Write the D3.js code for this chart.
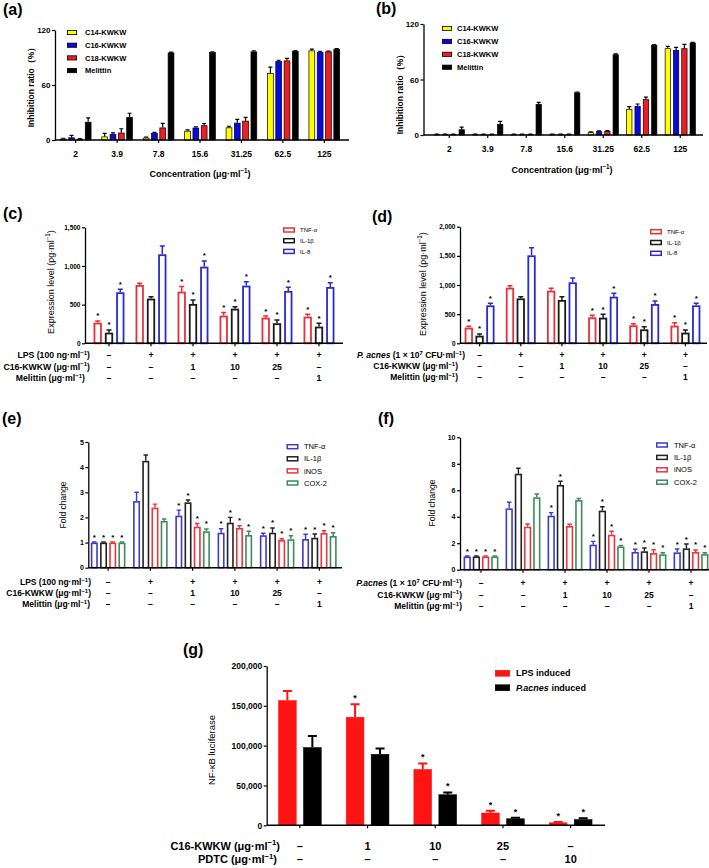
<!DOCTYPE html>
<html><head><meta charset="utf-8">
<script src="https://cdn.jsdelivr.net/npm/d3@7"></script>
<style>body{margin:0;background:#fff} svg{display:block}</style>
</head><body><svg id="fig" width="709" height="868"></svg>
<script>
const FONT = '"Liberation Sans", Arial, Helvetica, sans-serif';

// ---------- (a) / (b) data ----------
const concLabels = ["2", "3.9", "7.8", "15.6", "31.25", "62.5", "125"];
const peptideNames = ["C14-KWKW", "C16-KWKW", "C18-KWKW", "Melittin"];
const a_C14 = [1.4, 3.8, 2.5, 10, 13.7, 73, 97.6];
const a_C14_err = [0.5, 3.5, 0.7, 1, 1.3, 6.5, 1.5];
const a_C16 = [2.8, 6.5, 7.6, 13.4, 18.8, 86, 95.8];
const a_C16_err = [2.2, 1.2, 0.8, 1, 3.6, 1, 0.8];
const a_C18 = [1.2, 8, 13.6, 16, 21, 86.7, 96.5];
const a_C18_err = [0.3, 4.3, 4.5, 2, 3.6, 2.3, 0.5];
const a_Mel = [19.8, 25, 95.4, 95.8, 96.5, 97, 99.4];
const a_Mel_err = [4.4, 4.2, 0.5, 0.5, 0.8, 0.5, 0.3];

const b_C14 = [0.6, 0.6, 0.6, 0.6, 2.9, 28, 93.7];
const b_C14_err = [0.3, 0.3, 0.3, 0.3, 0.5, 2.6, 2.2];
const b_C16 = [0.6, 0.6, 0.6, 0.6, 4, 31.4, 91.9];
const b_C16_err = [0.3, 0.3, 0.3, 0.3, 0.5, 2.1, 2.9];
const b_C18 = [0.6, 0.6, 0.6, 0.6, 4.3, 38.6, 93.7];
const b_C18_err = [0.3, 0.3, 0.3, 0.3, 0.5, 2.4, 4.3];
const b_Mel = [6.1, 11.9, 33.5, 46, 87.2, 97.3, 99.8];
const b_Mel_err = [2.5, 2.9, 1.8, 0.5, 0.5, 0.5, 0.3];
const inhibTicks = [0, 60, 120];

// ---------- (c) / (d) data ----------
const cytokines3 = ["TNF-α", "IL-1β", "IL-8"];
const condLPS = ["–", "+", "+", "+", "+", "+"];
const condC16 = ["–", "–", "1", "10", "25", "–"];
const condMel = ["–", "–", "–", "–", "–", "1"];

const c_TNF = [267, 754, 668, 358, 332, 345];
const c_TNF_err = [22, 22, 65, 39, 21, 30];
const c_IL1b = [138, 578, 509, 448, 259, 216];
const c_IL1b_err = [34, 25, 51, 26, 43, 43];
const c_IL8 = [660, 1151, 991, 746, 677, 728];
const c_IL8_err = [38, 108, 74, 51, 47, 56];
const c_stars = [1, 0, 1, 1, 1, 1];
const cTicks = [0, 500, 1000, 1500];

const d_TNF = [269, 954, 903, 446, 309, 303];
const d_TNF_err = [22, 35, 40, 34, 28, 51];
const d_IL1b = [131, 771, 743, 440, 240, 183];
const d_IL1b_err = [29, 29, 57, 57, 46, 46];
const d_IL8 = [651, 1509, 1046, 800, 674, 651];
const d_IL8_err = [35, 131, 74, 57, 52, 35];
const d_stars = [1, 0, 0, 1, 1, 1];
const dTicks = [0, 500, 1000, 1500, 2000];

// ---------- (e) / (f) data ----------
const genes4 = ["TNF-α", "IL-1β", "iNOS", "COX-2"];
const e_TNF = [1, 2.65, 2.07, 1.39, 1.29, 1.14];
const e_TNF_err = [0.02, 0.35, 0.22, 0.16, 0.08, 0.19];
const e_IL1b = [1, 4.25, 2.6, 1.79, 1.39, 1.19];
const e_IL1b_err = [0.02, 0.23, 0.09, 0.21, 0.19, 0.15];
const e_iNOS = [1, 2.39, 1.63, 1.58, 1.1, 1.38];
const e_iNOS_err = [0.02, 0.14, 0.13, 0.09, 0.05, 0.09];
const e_COX2 = [1, 1.86, 1.45, 1.3, 1.13, 1.26];
const e_COX2_err = [0.02, 0.08, 0.09, 0.15, 0.14, 0.13];
const e_stars = [1, 0, 1, 1, 1, 1];
const eTicks = [0, 1, 2, 3, 4, 5];

const f_TNF = [1, 4.63, 4.08, 1.89, 1.34, 1.31];
const f_TNF_err = [0.03, 0.46, 0.23, 0.25, 0.2, 0.25];
const f_IL1b = [1, 7.25, 6.4, 4.46, 1.39, 1.61];
const f_IL1b_err = [0.03, 0.41, 0.28, 0.3, 0.25, 0.33];
const f_iNOS = [1, 3.25, 3.3, 2.64, 1.26, 1.34];
const f_iNOS_err = [0.03, 0.2, 0.13, 0.26, 0.25, 0.15];
const f_COX2 = [1, 5.47, 5.26, 1.76, 1.16, 1.18];
const f_COX2_err = [0.03, 0.25, 0.13, 0.08, 0.12, 0.1];
const f_stars_a = [1, 0, 1, 1, 1, 1];
const f_stars_b = [1, 0, 0, 1, 1, 1];
const fTicks = [0, 2, 4, 6, 8, 10];

// ---------- (g) data ----------
const gSeries = ["LPS induced", "<i>P.acnes</i> induced"];
const condC16g = ["–", "1", "10", "25", "–"];
const condPDTC = ["–", "–", "–", "–", "10"];
const g_LPS = [157000, 136000, 70500, 15800, 3500];
const g_LPS_err = [11500, 16000, 7200, 2500, 500];
const g_Pac = [98000, 89500, 38700, 8500, 7500];
const g_Pac_err = [14000, 7000, 2500, 1000, 1300];
const g_LPS_stars = [0, 1, 1, 1, 1];
const g_Pac_stars = [0, 0, 1, 1, 1];
const gTicks = [0, 50000, 100000, 150000, 200000];

// ================= drawing =================
const svg = d3.select("#fig");
svg.append("rect").attr("width", 709).attr("height", 868).attr("fill", "#fff");

function richText(sel, str, fs) {
  const parts = str.split(/(\^\{[^}]*\}|<i>[^<]*<\/i>)/).filter(s => s.length);
  let shifted = false;
  parts.forEach(p => {
    const t = sel.append("tspan");
    if (p.startsWith("^{")) {
      t.text(p.slice(2, -1)).attr("font-size", fs * 0.7).attr("dy", -fs * 0.4);
      shifted = true;
    } else {
      if (p.startsWith("<i>")) t.text(p.slice(3, -4)).attr("font-style", "italic");
      else t.text(p);
      if (shifted) { t.attr("dy", fs * 0.4); shifted = false; }
    }
  });
  return sel;
}

function txt(x, y, str, fs, opts = {}) {
  const t = svg.append("text").attr("x", x).attr("y", y)
    .attr("font-family", FONT).attr("font-size", fs)
    .attr("font-weight", opts.weight || "normal")
    .attr("text-anchor", opts.anchor || "start")
    .attr("fill", "#000");
  if (opts.rotate) t.attr("transform", `rotate(-90,${x},${y})`);
  richText(t, str, fs);
  return t;
}

function barPanel(o) {
  const g = svg.append("g");
  const n = o.series[0].vals.length;
  const x = d3.scaleBand().domain(d3.range(n)).range([o.gx0, o.gx1]);
  const y = d3.scaleLinear().domain([0, o.yMax]).range([o.yZero, o.yTop]);
  const ns = o.series.length;
  const sub = d3.scaleBand().domain(d3.range(ns)).range([-o.pitch * ns / 2, o.pitch * ns / 2]);
  const center = i => x(i) + x.bandwidth() / 2;

  // bars
  o.series.forEach((s, si) => {
    const cx = i => center(i) + sub(si) + sub.bandwidth() / 2;
    const bw = o.barW;
    const sw = s.hollow ? o.hollowSW : o.filledSW;
    const pts = s.vals.map((v, i) => ({ v, i, e: s.errs[i], star: s.stars ? s.stars[i] : 0 }));
    const layer = g.append("g");
    layer.selectAll("rect").data(pts).join("rect")
      .attr("x", d => cx(d.i) - bw / 2 + sw / 2)
      .attr("width", bw - sw)
      .attr("y", d => y(d.v) + sw / 2)
      .attr("height", d => Math.max(0, o.yZero - y(d.v) - sw / 2))
      .attr("fill", s.hollow ? "#fff" : s.color)
      .attr("stroke", s.hollow ? s.color : (s.edge || "#000"))
      .attr("stroke-width", sw);
    // error bars
    const ec = s.errColor || (s.hollow ? s.color : (s.edge || "#000"));
    const cap = o.capW;
    layer.selectAll("path.err").data(pts).join("path").attr("class", "err")
      .attr("d", d => {
        const yt = y(d.v + d.e), yb = y(d.v);
        const c = cx(d.i);
        return `M${c},${yb}V${yt}M${c - cap / 2},${yt}H${c + cap / 2}`;
      })
      .attr("fill", "none").attr("stroke", ec).attr("stroke-width", o.errSW);
    layer.selectAll("text.star").data(pts.filter(d => d.star)).join("text").attr("class", "star")
      .attr("x", d => cx(d.i))
      .attr("y", d => y(d.v + d.e) - o.starGap)
      .attr("text-anchor", "middle")
      .attr("font-family", FONT).attr("font-size", o.starFs).attr("font-weight", "bold")
      .text("*");
  });

  // y axis
  const ya = d3.axisLeft(y).tickValues(o.yTicks).tickSize(3).tickSizeOuter(0)
    .tickPadding(1.5).tickFormat(o.yFmt || d3.format(","));
  const yg = g.append("g").attr("transform", `translate(${o.axisX},0)`).call(ya);
  yg.attr("font-family", FONT).attr("font-size", o.yTickFs).attr("font-weight", "bold");
  yg.select(".domain").attr("stroke-width", 1.3);
  yg.selectAll(".tick line").attr("stroke-width", 1.2);

  // x axis
  g.append("line").attr("x1", o.axisX).attr("x2", o.axisEnd)
    .attr("y1", o.yZero).attr("y2", o.yZero).attr("stroke", "#000").attr("stroke-width", 1.4);
  const xa = d3.axisBottom(x).tickSize(3).tickSizeOuter(0).tickPadding(o.xPad || 8)
    .tickFormat(o.xLabels ? (d, i) => o.xLabels[i] : "");
  const xg = g.append("g").attr("transform", `translate(0,${o.yZero})`).call(xa);
  xg.select(".domain").remove();
  xg.attr("font-family", FONT).attr("font-size", o.xTickFs || 8).attr("font-weight", "bold");
  xg.selectAll(".tick line").attr("stroke-width", 1.2);

  // condition rows
  if (o.rows) {
    o.rows.forEach(r => {
      txt(r.lx, r.y, r.label, o.rowFs, { weight: "bold", anchor: "end" }).attr("dy", "0.35em");
      r.vals.forEach((v, i) => {
        svg.append("text").attr("x", center(i)).attr("y", r.y).attr("dy", "0.35em")
          .attr("text-anchor", "middle").attr("font-family", FONT)
          .attr("font-size", o.rowFs).attr("font-weight", "bold").text(v);
      });
    });
  }

  // legend
  if (o.legend) {
    const L = o.legend;
    o.series.forEach((s, si) => {
      const yy = L.y0 + si * L.dy;
      const sw = s.hollow ? L.sw : 0.8;
      svg.append("rect").attr("x", L.x + sw / 2).attr("y", yy - L.h / 2 + sw / 2)
        .attr("width", L.w - sw).attr("height", L.h - sw)
        .attr("fill", s.hollow ? "#fff" : s.color)
        .attr("stroke", s.hollow ? s.color : (s.edge || "#000")).attr("stroke-width", sw);
      txt(L.tx, yy, s.name, L.fs, { weight: L.weight || "normal" }).attr("dy", "0.35em");
    });
  }
}

// ---- panel labels ----
txt(3, 15, "(a)", 16, { weight: "bold" });
txt(376, 14, "(b)", 16, { weight: "bold" });
txt(3, 219, "(c)", 16, { weight: "bold" });
txt(372, 222, "(d)", 16, { weight: "bold" });
txt(2, 424, "(e)", 16, { weight: "bold" });
txt(378, 424, "(f)", 16, { weight: "bold" });
txt(183, 655, "(g)", 16, { weight: "bold" });

// ---- (a) ----
const colY = "#ffff00", colB = "#0a0ae0", colR = "#ee1c24", colK = "#000";
barPanel({
  series: [
    { name: peptideNames[0], vals: a_C14, errs: a_C14_err, color: colY },
    { name: peptideNames[1], vals: a_C16, errs: a_C16_err, color: colB },
    { name: peptideNames[2], vals: a_C18, errs: a_C18_err, color: colR },
    { name: peptideNames[3], vals: a_Mel, errs: a_Mel_err, color: colK }
  ],
  gx0: 55, gx1: 345, axisX: 55, axisEnd: 349, yZero: 140, yTop: 30, yMax: 120,
  yTicks: inhibTicks, yFmt: d3.format("d"), yTickFs: 8, xLabels: concLabels, xTickFs: 8.5,
  barW: 6.5, pitch: 8.3, filledSW: 0.7, capW: 4, errSW: 1.2, starGap: 1.5, starFs: 8,
  legend: { x: 67, y0: 32.5, dy: 12.7, w: 10, h: 5, tx: 85, fs: 7.5, weight: "bold" }
});
txt(34, 85, "Inhibition ratio（%）", 8.5, { weight: "bold", anchor: "middle", rotate: true });
txt(200, 177, "Concentration (μg·ml^{−1})", 9, { weight: "bold", anchor: "middle" });

// ---- (b) ----
barPanel({
  series: [
    { name: peptideNames[0], vals: b_C14, errs: b_C14_err, color: colY },
    { name: peptideNames[1], vals: b_C16, errs: b_C16_err, color: colB },
    { name: peptideNames[2], vals: b_C18, errs: b_C18_err, color: colR },
    { name: peptideNames[3], vals: b_Mel, errs: b_Mel_err, color: colK }
  ],
  gx0: 430, gx1: 699.5, axisX: 423.5, axisEnd: 703, yZero: 135, yTop: 24, yMax: 120,
  yTicks: inhibTicks, yFmt: d3.format("d"), yTickFs: 8, xLabels: concLabels, xTickFs: 8.5,
  barW: 6, pitch: 8.3, filledSW: 0.7, capW: 4, errSW: 1.2, starGap: 1.5, starFs: 8,
  legend: { x: 442, y0: 28.5, dy: 12.9, w: 10, h: 5, tx: 457, fs: 7.5, weight: "bold" }
});
txt(403, 92, "Inhibition ratio（%）", 8.5, { weight: "bold", anchor: "middle", rotate: true });
txt(562, 173, "Concentration (μg·ml^{−1})", 9, { weight: "bold", anchor: "middle" });

// ---- (c) ----
const cRed = "#e8303a", cBlk = "#1a1a1a", cBlu = "#2a2ad0";
barPanel({
  series: [
    { name: cytokines3[0], vals: c_TNF, errs: c_TNF_err, color: cRed, hollow: true, stars: c_stars },
    { name: cytokines3[1], vals: c_IL1b, errs: c_IL1b_err, color: cBlk, hollow: true, stars: c_stars },
    { name: cytokines3[2], vals: c_IL8, errs: c_IL8_err, color: cBlu, hollow: true, stars: c_stars }
  ],
  gx0: 88, gx1: 340, axisX: 85, axisEnd: 343, yZero: 343.3, yTop: 227.3, yMax: 1500,
  yTicks: cTicks, yTickFs: 6.5,
  barW: 8.3, pitch: 11.3, hollowSW: 1.8, capW: 5, errSW: 1.5, starGap: 2.5, starFs: 8,
  rowFs: 8.7,
  rows: [
    { label: "LPS (100 ng·ml^{−1})", lx: 90, y: 355, vals: condLPS },
    { label: "C16-KWKW (μg·ml^{−1})", lx: 90, y: 366.5, vals: condC16 },
    { label: "Melittin (μg·ml^{−1})", lx: 85, y: 378, vals: condMel }
  ],
  legend: { x: 283, y0: 230, dy: 10.7, w: 12, h: 5.5, tx: 300, fs: 6, sw: 1.5 }
});
txt(54, 282, "Expression level (pg·ml^{−1})", 9, { anchor: "middle", rotate: true });

// ---- (d) ----
barPanel({
  series: [
    { name: cytokines3[0], vals: d_TNF, errs: d_TNF_err, color: cRed, hollow: true, stars: d_stars },
    { name: cytokines3[1], vals: d_IL1b, errs: d_IL1b_err, color: cBlk, hollow: true, stars: d_stars },
    { name: cytokines3[2], vals: d_IL8, errs: d_IL8_err, color: cBlu, hollow: true, stars: d_stars }
  ],
  gx0: 459, gx1: 706, axisX: 460, axisEnd: 707, yZero: 343.3, yTop: 226.7, yMax: 2000,
  yTicks: dTicks, yTickFs: 6.5,
  barW: 8.3, pitch: 10.8, hollowSW: 1.8, capW: 5, errSW: 1.5, starGap: 2.5, starFs: 8,
  rowFs: 8.5,
  rows: [
    { label: "<i>P. acnes</i> (1 × 10^{7} CFU·ml^{−1})", lx: 465, y: 355, vals: condLPS },
    { label: "C16-KWKW (μg·ml^{−1})", lx: 458, y: 366, vals: condC16 },
    { label: "Melittin (μg·ml^{−1})", lx: 458, y: 377, vals: condMel }
  ],
  legend: { x: 650, y0: 231.7, dy: 10.8, w: 12, h: 5.5, tx: 667, fs: 6, sw: 1.5 }
});
txt(426, 284, "Expression level (pg·ml^{−1})", 9, { anchor: "middle", rotate: true });

// ---- (e) ----
const eBlu = "#3b3bcc", eBlk = "#222", eRed = "#e8363e", eGrn = "#3d8a5c";
barPanel({
  series: [
    { name: genes4[0], vals: e_TNF, errs: e_TNF_err, color: eBlu, hollow: true, stars: e_stars },
    { name: genes4[1], vals: e_IL1b, errs: e_IL1b_err, color: eBlk, hollow: true, stars: e_stars },
    { name: genes4[2], vals: e_iNOS, errs: e_iNOS_err, color: eRed, hollow: true, stars: e_stars },
    { name: genes4[3], vals: e_COX2, errs: e_COX2_err, color: eGrn, hollow: true, stars: e_stars }
  ],
  gx0: 87, gx1: 340.5, axisX: 88.3, axisEnd: 342, yZero: 567.7, yTop: 442, yMax: 5,
  yTicks: eTicks, yFmt: d3.format("d"), yTickFs: 7,
  barW: 7, pitch: 9.2, hollowSW: 1.6, capW: 4.5, errSW: 1.4, starGap: 2.5, starFs: 8,
  rowFs: 8.5,
  rows: [
    { label: "LPS (100 ng·ml^{−1})", lx: 91, y: 582.3, vals: condLPS },
    { label: "C16-KWKW (μg·ml^{−1})", lx: 91, y: 593.3, vals: condC16 },
    { label: "Melittin (μg·ml^{−1})", lx: 90, y: 604.3, vals: condMel }
  ],
  legend: { x: 286.5, y0: 446.7, dy: 12.1, w: 12, h: 5.5, tx: 304, fs: 7.5, sw: 1.5 }
});
txt(66, 505, "Fold change", 8.5, { anchor: "middle", rotate: true });

// ---- (f) ----
barPanel({
  series: [
    { name: genes4[0], vals: f_TNF, errs: f_TNF_err, color: eBlu, hollow: true, stars: f_stars_a },
    { name: genes4[1], vals: f_IL1b, errs: f_IL1b_err, color: eBlk, hollow: true, stars: f_stars_a },
    { name: genes4[2], vals: f_iNOS, errs: f_iNOS_err, color: eRed, hollow: true, stars: f_stars_b },
    { name: genes4[3], vals: f_COX2, errs: f_COX2_err, color: eGrn, hollow: true, stars: f_stars_b }
  ],
  gx0: 460, gx1: 712, axisX: 460, axisEnd: 709, yZero: 569.7, yTop: 437.3, yMax: 10,
  yTicks: fTicks, yFmt: d3.format("d"), yTickFs: 7,
  barW: 7.3, pitch: 9.2, hollowSW: 1.6, capW: 4.5, errSW: 1.4, starGap: 2.5, starFs: 8,
  rowFs: 8.5,
  rows: [
    { label: "<i>P.acnes</i> (1 × 10^{7} CFU·ml^{−1})", lx: 462, y: 583.3, vals: condLPS },
    { label: "C16-KWKW (μg·ml^{−1})", lx: 462, y: 594.7, vals: condC16 },
    { label: "Melittin (μg·ml^{−1})", lx: 462, y: 606.5, vals: condMel }
  ],
  legend: { x: 656, y0: 445, dy: 12.4, w: 12, h: 5.5, tx: 674, fs: 7.5, sw: 1.5 }
});
txt(435, 503, "Fold change", 8.5, { anchor: "middle", rotate: true });

// ---- (g) ----
barPanel({
  series: [
    { name: gSeries[0], vals: g_LPS, errs: g_LPS_err, color: "#ff1414", edge: "#ff1414", stars: g_LPS_stars },
    { name: gSeries[1], vals: g_Pac, errs: g_Pac_err, color: "#000", edge: "#000", stars: g_Pac_stars }
  ],
  gx0: 266, gx1: 604.5, axisX: 266.7, axisEnd: 605, yZero: 825.3, yTop: 666, yMax: 200000,
  yTicks: gTicks, yTickFs: 8.5,
  barW: 18.3, pitch: 25, filledSW: 0.5, capW: 9, errSW: 2, starGap: 3, starFs: 9,
  rowFs: 11,
  rows: [
    { label: "C16-KWKW (μg·ml^{−1})", lx: 280, y: 846, vals: condC16g },
    { label: "PDTC  (μg·ml^{−1})", lx: 277, y: 859.5, vals: condPDTC }
  ],
  legend: { x: 495, y0: 673.3, dy: 14.4, w: 15, h: 6.5, tx: 516, fs: 9, weight: "bold" }
});
txt(215, 750, "NF-κB luciferase", 9.5, { anchor: "middle", rotate: true });
</script></body></html>
